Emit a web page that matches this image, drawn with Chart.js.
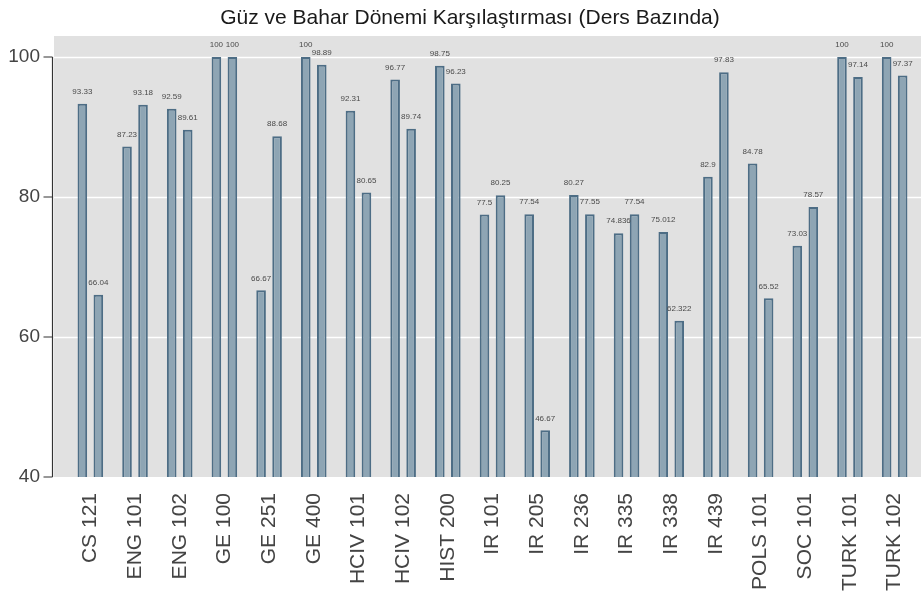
<!DOCTYPE html>
<html>
<head>
<meta charset="utf-8">
<script src="https://cdn.jsdelivr.net/npm/chart.js@4/dist/chart.umd.min.js"></script>
<style>
  html, body { margin: 0; padding: 0; background: #fff; }
  #wrap { width: 921px; height: 601px; }
</style>
</head>
<body>
<div id="wrap"><canvas id="barChart" width="921" height="601"></canvas></div>
<script>
const courses = ['CS 121', 'ENG 101', 'ENG 102', 'GE 100', 'GE 251', 'GE 400', 'HCIV 101', 'HCIV 102', 'HIST 200',
  'IR 101', 'IR 205', 'IR 236', 'IR 335', 'IR 338', 'IR 439', 'POLS 101', 'SOC 101', 'TURK 101', 'TURK 102'];
const fallValues = [93.33, 87.23, 92.59, 100, 66.67, 100, 92.31, 96.77, 98.75,
  77.5, 77.54, 80.27, 74.836, 75.012, 82.9, 84.78, 73.03, 100, 100];
const springValues = [66.04, 93.18, 89.61, 100, 88.68, 98.89, 80.65, 89.74, 96.23,
  80.25, 46.67, 77.55, 77.54, 62.322, 97.83, 65.52, 78.57, 97.14, 97.37];
const yTicks = [40, 60, 80, 100];
const titleText = 'Güz ve Bahar Dönemi Karşılaştırması (Ders Bazında)';

const FONT = "'Liberation Sans', Arial, Helvetica, sans-serif";

// gray panel, white grid, detached y axis line
const panelPlugin = {
  id: 'panel',
  beforeDraw(chart) {
    const { ctx, chartArea: a, scales: { y } } = chart;
    const left = a.left - 14;
    const top = y.getPixelForValue(y.max);
    ctx.save();
    ctx.fillStyle = '#e1e1e1';
    ctx.fillRect(left, top, chart.width - left, a.bottom - top);
    ctx.strokeStyle = '#ffffff';
    ctx.lineWidth = 1.5;
    yTicks.forEach(v => {
      if (v === y.min) return;
      const py = Math.round(y.getPixelForValue(v)) + 0.5;
      ctx.beginPath();
      ctx.moveTo(left, py);
      ctx.lineTo(chart.width, py);
      ctx.stroke();
    });
    // axis line + tick marks
    const ax = left - 1.5;
    ctx.strokeStyle = '#333';
    ctx.lineWidth = 1.2;
    ctx.beginPath();
    ctx.moveTo(ax, y.getPixelForValue(yTicks[0]));
    ctx.lineTo(ax, y.getPixelForValue(yTicks[yTicks.length - 1]));
    yTicks.forEach(v => {
      const py = y.getPixelForValue(v);
      ctx.moveTo(ax, py);
      ctx.lineTo(ax - 9, py);
    });
    ctx.stroke();
    // title
    ctx.fillStyle = '#1a1a1a';
    ctx.font = '21px ' + FONT;
    ctx.textAlign = 'center';
    ctx.textBaseline = 'alphabetic';
    ctx.fillText(titleText, 470, 24);
    ctx.restore();
  }
};

const valueLabels = {
  id: 'valueLabels',
  afterDatasetsDraw(chart) {
    const { ctx } = chart;
    ctx.save();
    ctx.fillStyle = '#4a4a4a';
    ctx.font = '8px ' + FONT;
    ctx.textAlign = 'center';
    ctx.textBaseline = 'middle';
    chart.data.datasets.forEach((ds, i) => {
      chart.getDatasetMeta(i).data.forEach((bar, j) => {
        ctx.fillText(String(ds.data[j]), bar.x, bar.y - 12);
      });
    });
    ctx.restore();
  }
};

new Chart(document.getElementById('barChart'), {
  type: 'bar',
  data: {
    labels: courses,
    datasets: [
      { label: 'Güz', data: fallValues },
      { label: 'Bahar', data: springValues }
    ].map(d => Object.assign(d, {
      backgroundColor: '#8ea5b4',
      borderColor: '#4d6d85',
      borderWidth: 2,
      borderSkipped: false,
      categoryPercentage: 0.716,
      barPercentage: 0.6
    }))
  },
  options: {
    responsive: false,
    animation: false,
    layout: { padding: { top: 36, right: 4, left: 0, bottom: 0 } },
    plugins: { legend: { display: false }, tooltip: { enabled: false }, title: { display: false } },
    scales: {
      x: {
        grid: { display: false, drawTicks: false },
        border: { display: false },
        ticks: {
          color: '#444', font: { size: 21, family: FONT },
          minRotation: 90, maxRotation: 90, padding: 16, autoSkip: false
        },
        afterFit(s) { s.height = 124; s.paddingLeft = 0; s.paddingRight = 0; }
      },
      y: {
        min: 40, max: 103,
        grid: { display: false, drawTicks: false },
        border: { display: false },
        afterBuildTicks(s) { s.ticks = yTicks.map(v => ({ value: v })); },
        ticks: { color: '#444', font: { size: 19, family: FONT }, padding: 28 },
        afterFit(s) { s.width = 68; s.paddingTop = 0; s.paddingBottom = 0; }
      }
    }
  },
  plugins: [panelPlugin, valueLabels]
});
</script>
</body>
</html>
